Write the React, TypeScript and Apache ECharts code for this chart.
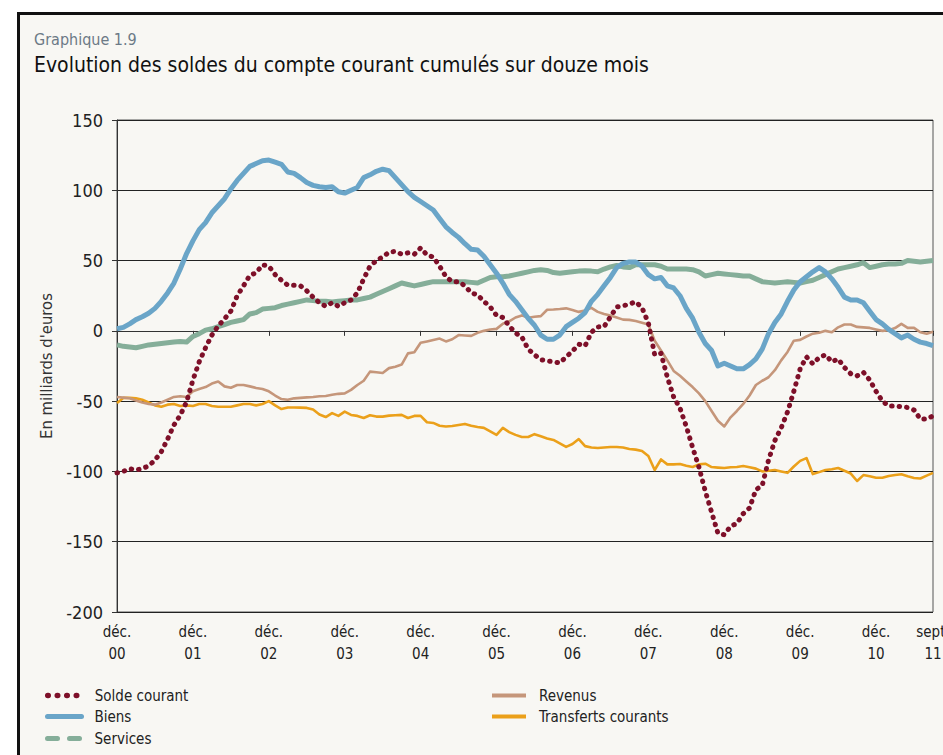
import React, { useEffect, useRef } from "react";
import * as echarts from "echarts";

const monthAbbr = ["janv.", "févr.", "mars", "avr.", "mai", "juin", "juil.", "août", "sept.", "oct.", "nov.", "déc."];
// Monthly categories from déc. 2000 to sept. 2011
const months: string[] = [];
for (let i = 0; i < 130; i++) {
  const k = 11 + i;
  const yy = String((k / 12) | 0).padStart(2, "0");
  months.push(`${monthAbbr[k % 12]} ${yy}`);
}

const soldeCourant = [
  -101, -100, -98, -99, -98, -96, -92, -86, -77, -67,
  -60, -50.5, -35, -22, -12, -3, 3.5, 8.5, 14, 25,
  32, 39.5, 41.3, 47, 46, 40, 36, 32.5, 32.5, 32,
  28.5, 24, 20, 17.5, 20, 17.5, 20, 22, 27, 37,
  46, 50, 52.5, 56, 56.5, 54.5, 55.5, 54.5, 59, 54,
  52.5, 46, 38.5, 35, 35, 32, 27, 25.6, 21, 17,
  11, 9.5, 3.5, -1.5, -4.3, -13, -17, -20.5, -21.4, -22,
  -22.8, -18.5, -14.5, -9.5, -10.7, -1, 2.8, 3, 10, 17,
  17.8, 19, 20.7, 16.4, 5.7, -17, -16, -33, -47, -55,
  -68, -83, -97, -114, -129, -144, -145, -139, -137, -130,
  -126, -113, -110, -92, -78, -69, -57.7, -43, -27, -18.5,
  -23.5, -19, -17, -22, -20, -26, -30.5, -32, -29.5, -35,
  -43, -50, -53.4, -53.4, -54, -54.5, -56.3, -62.7, -62.7, -60.5,
];

const biens = [
  1.5, 2.5, 5, 8, 10, 12.5, 16, 21, 27, 34,
  44, 55, 64, 72, 77, 84, 89, 94, 101, 107,
  112, 117, 119, 121, 121.5, 120, 118.5, 113, 112, 109,
  105.5, 103.5, 102.5, 102, 102.5, 99, 98, 100, 102, 109,
  111, 113.5, 115, 114, 109, 104, 99, 95, 92, 89,
  86, 80, 74, 70, 66.5, 62, 58, 57.5, 53, 47,
  41, 34, 26, 21, 15, 9, 4, -3, -6, -6,
  -3, 3, 6, 9, 13, 21, 26, 32, 38, 45,
  48, 49, 49, 46, 40, 37, 38, 32, 30.5, 25,
  16, 9, -1, -9, -14, -25, -23, -25, -27, -27,
  -24, -20, -13, -2, 6, 12, 21, 29, 35, 38.5,
  42, 45, 42, 37, 31, 24, 22, 22, 20, 14,
  8, 5, 1, -2, -5, -3, -6, -8, -9, -10.5,
];

const services = [
  -10, -11, -11.5, -12, -11, -10, -9.5, -9, -8.5, -8,
  -7.5, -8, -4, -2, 0.5, 1.5, 3, 4.5, 6, 7,
  8, 12, 13, 15.5, 16, 16.5, 18, 19, 20, 21,
  22, 21.5, 21, 21, 20.5, 21, 21.5, 22, 22, 23,
  24, 26, 28, 30, 32, 34, 33, 32, 33, 34,
  35, 35, 35, 35, 35, 35, 34.5, 34, 36, 38,
  38.5, 38.5, 39, 40, 41, 42, 43, 43.5, 43, 41.5,
  41, 41.5, 42, 42.5, 42.7, 42.5, 42, 44, 45.5, 46.5,
  45.5, 45, 47, 47, 47, 47, 46, 44, 44, 44,
  44, 43.5, 42, 39, 40, 41, 40.5, 40, 39.5, 39,
  39, 37, 35, 34.5, 34, 34.5, 35, 34.5, 34, 35,
  36, 38, 40, 42, 44, 45, 46, 47, 48.5, 45,
  46, 47, 47.5, 47.5, 48, 50, 49.5, 49, 49.5, 50,
];

const revenus = [
  -47, -47.5, -48, -49.5, -51, -52, -52.5, -51, -49, -47,
  -46.5, -47, -43, -41.3, -40, -37.5, -36, -39.5, -40.5, -38.5,
  -38.5, -39.5, -40.6, -41.3, -43, -46, -48.5, -49, -48, -47.7,
  -47.3, -47, -46.5, -46.3, -45.5, -44.8, -44.5, -42, -38.5, -35.5,
  -29, -29.5, -30, -26.5, -25.5, -24, -16, -15.2, -8.5, -7.5,
  -6.5, -5.5, -7.5, -6, -3, -3.3, -3.6, -1.4, 0, 1,
  1.4, 5, 6.8, 9.5, 11, 9.3, 10, 10.5, 15, 15.2,
  15.5, 16, 14.8, 13.5, 14.5, 16.4, 13.5, 12, 11, 9.5,
  8, 7.8, 7, 5.7, 4.5, -7, -14, -21, -28.5, -32,
  -36, -40, -44.5, -50, -57, -64, -68, -61.5, -57, -52,
  -46, -38.5, -35.5, -33, -28, -21, -15, -7, -6.4, -4,
  -2, -1.4, 0, -1, 2.5, 4.5, 4.5, 2.8, 2.5, 2.1,
  1, 0, 0.5, 2, 5, 2.1, 2.1, -1, -2, -0.7,
];

const transferts = [
  -51.3, -47.7, -47.7, -48, -49, -51, -53, -54, -52.5, -52,
  -53.4, -53, -53.4, -52, -52, -53.4, -54, -54, -54, -53,
  -52, -52, -53, -52, -50, -53, -55.6, -54.5, -54.5, -54.6,
  -54.8, -56, -59.5, -61.3, -58.5, -60.5, -57.5, -59.8, -60.5, -62,
  -60, -61, -61, -60.3, -60, -59.8, -62, -60.5, -60.5, -65,
  -65.5, -67.5, -68, -67.7, -67, -66.2, -67.5, -68.4, -69, -71.5,
  -74, -69, -72, -74, -75.5, -75.5, -73.5, -75, -76.5, -77.6,
  -80, -82.5, -80.5, -77, -82, -83, -83.3, -83, -82.6, -82.6,
  -83, -84, -84.5, -85.5, -89, -99, -91.5, -95, -95, -94.7,
  -96, -96.9, -95, -94.5, -96.9, -97.3, -97.6, -97, -96.9, -96.2,
  -97, -98, -100, -99.5, -99, -100, -101, -96.5, -92.5, -90.5,
  -101.9, -100.5, -99, -98.5, -97.6, -99.5, -101.5, -106.8, -102.6, -103.5,
  -104.5, -104.5, -103.3, -102.5, -102, -103.5, -104.7, -105, -103, -101,
];

const yTicks = { min: -200, max: 150, interval: 50 };

const FONT = "'DejaVu Sans Condensed', 'Liberation Sans Narrow', Roboto, sans-serif";
const C_SOLDE = "#7e1029";
const C_BIENS = "#6aa5c8";
const C_SERV = "#85ae99";
const C_REV = "#c5967a";
const C_TRANS = "#eba01a";

const legendText = { fontFamily: FONT, fontSize: 15, color: "#222", padding: [0, 0, 0, 8] };
const mkLegend = (left: number, top: number, item: any) => ({
  orient: "vertical",
  left,
  top,
  padding: 0,
  itemWidth: 34,
  itemHeight: 14,
  textStyle: legendText,
  data: [{ ...item, itemStyle: { opacity: 0 } }],
});

export default function App() {
  const ref = useRef<HTMLDivElement>(null);
  useEffect(() => {
    if (!ref.current) return;
    const chart = echarts.init(ref.current, undefined, { renderer: "svg" });
    const showIdx = (i: number) => i % 12 === 0 || i === months.length - 1;
    chart.setOption({
      animation: false,
      backgroundColor: "transparent",
      textStyle: { fontFamily: FONT },
      title: [
        {
          text: "Graphique 1.9",
          left: 34,
          top: 31,
          padding: 0,
          textStyle: { fontFamily: FONT, fontSize: 16, fontWeight: "normal", color: "#6c7a86" },
        },
        {
          text: "Evolution des soldes du compte courant cumulés sur douze mois",
          left: 34,
          top: 54,
          padding: 0,
          textStyle: { fontFamily: FONT, fontSize: 21, fontWeight: "normal", color: "#111" },
        },
      ],
      grid: {
        left: 117,
        right: 10,
        top: 120,
        bottom: 143,
        show: true,
        borderColor: "#555",
        borderWidth: 1,
        backgroundColor: "transparent",
        outerBoundsMode: "none",
        containLabel: false,
      },
      legend: [
        mkLegend(45, 688, { name: "Solde courant", lineStyle: { type: [0.5, 9], width: 5.5, cap: "round" } }),
        mkLegend(45, 709, { name: "Biens", lineStyle: { width: 5, cap: "round" } }),
        mkLegend(45, 731, { name: "Services", lineStyle: { type: [10, 12], width: 5, cap: "round" } }),
        mkLegend(490, 688, { name: "Revenus", lineStyle: { width: 4 } }),
        mkLegend(490, 709, { name: "Transferts courants", lineStyle: { width: 4 } }),
      ],
      xAxis: {
        type: "category",
        data: months,
        boundaryGap: false,
        axisLine: { lineStyle: { color: "#333", width: 1 } },
        axisTick: { interval: (i: number) => showIdx(i), length: 5, lineStyle: { color: "#333" } },
        axisLabel: {
          interval: (i: number) => showIdx(i),
          formatter: (v: string) => v.replace(" ", "\n"),
          fontFamily: FONT,
          fontSize: 15,
          color: "#222",
          lineHeight: 22,
          margin: 9,
          hideOverlap: false,
        },
        splitLine: { show: false },
      },
      yAxis: {
        type: "value",
        min: yTicks.min,
        max: yTicks.max,
        interval: yTicks.interval,
        name: "En milliards d'euros",
        nameLocation: "middle",
        nameGap: 57,
        nameRotate: 90,
        nameTextStyle: { fontFamily: FONT, fontSize: 16.5, color: "#333" },
        axisLine: { show: true, lineStyle: { color: "#333", width: 1 } },
        axisTick: { show: true, length: 5, lineStyle: { color: "#333" } },
        axisLabel: { fontFamily: FONT, fontSize: 18, color: "#222", margin: 14 },
        splitLine: { show: true, lineStyle: { color: "#222", width: 1 } },
      },
      series: [
        {
          name: "Transferts courants",
          type: "line",
          data: transferts,
          showSymbol: false,
          color: C_TRANS,
          lineStyle: { color: C_TRANS, width: 2.6, join: "round" },
        },
        {
          name: "Revenus",
          type: "line",
          data: revenus,
          showSymbol: false,
          color: C_REV,
          lineStyle: { color: C_REV, width: 2.6, join: "round" },
        },
        {
          name: "Services",
          type: "line",
          data: services,
          showSymbol: false,
          color: C_SERV,
          lineStyle: { color: C_SERV, width: 5, join: "round" },
        },
        {
          name: "Biens",
          type: "line",
          data: biens,
          showSymbol: false,
          color: C_BIENS,
          lineStyle: { color: C_BIENS, width: 5, join: "round" },
        },
        {
          name: "Solde courant",
          type: "line",
          data: soldeCourant,
          showSymbol: false,
          color: C_SOLDE,
          lineStyle: { color: C_SOLDE, width: 5, type: [0.5, 7], cap: "round", join: "round" },
        },
      ],
    });
    return () => chart.dispose();
  }, []);

  return (
    <div style={{ position: "fixed", left: 0, top: 0, width: 943, height: 755, background: "#fff", overflow: "hidden" }}>
      <div
        style={{
          position: "absolute",
          left: 17,
          top: 12,
          width: 1000,
          height: 1000,
          border: "3px solid #111",
          background: "#f8f7f3",
        }}
      />
      <div ref={ref} style={{ position: "absolute", left: 0, top: 0, width: 943, height: 755 }} />
    </div>
  );
}
